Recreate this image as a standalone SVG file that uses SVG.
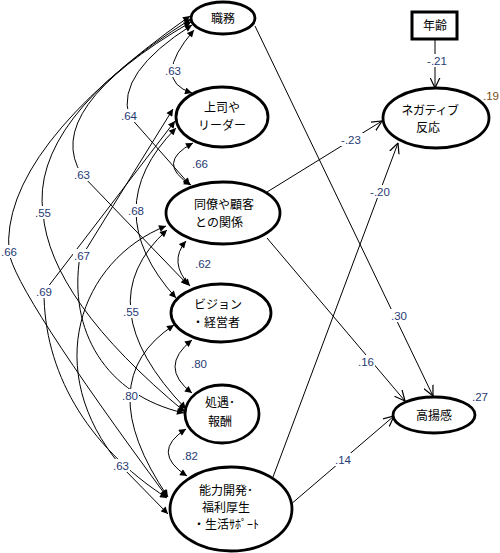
<svg xmlns="http://www.w3.org/2000/svg" width="500" height="553" viewBox="0 0 500 553">
<style>
.c{fill:none;stroke:#000;stroke-width:1}
.cov{marker-start:url(#ah);marker-end:url(#ah)}
.s{marker-start:url(#ah)}
.e{marker-end:url(#ah)}
.r{fill:none;stroke:#000;stroke-width:1;marker-end:url(#open)}
.n{fill:#fff;stroke:#000;stroke-width:2.8}
.t{font-family:"Noto Sans CJK JP",sans-serif;font-size:12px;fill:#000;text-anchor:middle}
.l{font-family:"Liberation Sans",Arial,sans-serif;font-size:11.5px;fill:#1f3b73;text-anchor:middle}
.bg{fill:#fff}
</style>
<defs>
<marker id="ah" viewBox="0 0 10 10" refX="10" refY="5" markerWidth="8" markerHeight="7" markerUnits="userSpaceOnUse" orient="auto-start-reverse"><path d="M0,0 L10,5 L0,10 z" fill="#000"/></marker>
<marker id="open" viewBox="0 0 10 10" refX="9.5" refY="5" markerWidth="11" markerHeight="11" markerUnits="userSpaceOnUse" orient="auto"><path d="M0,0.5 L9.5,5 L0,9.5" fill="none" stroke="#000" stroke-width="1.1"/></marker>
</defs>
<rect width="500" height="553" fill="#fff"/>
<g id="connectors">
<path class="c cov" d="M194,30 Q151,80 192,93"/>
<path class="c cov" d="M193,143 Q155,163 191,185"/>
<path class="c cov" d="M186,241 Q168,262 190,286"/>
<path class="c cov" d="M192,340 Q158,367 192,393"/>
<path class="c cov" d="M186,429 Q150,452 187,476"/>
<path class="c s" d="M192,25 Q116,73 129,116"/>
<path class="c e" d="M129,116 L190,185"/>
<path class="c s" d="M191,22 Q40,110 82,175"/>
<path class="c e" d="M82,175 L188,285"/>
<path class="c s" d="M191,19 Q30,120 43,213"/>
<path class="c e" d="M43,213 Q50,300 185,412"/>
<path class="c s" d="M190,16 Q0,150 9,252"/>
<path class="c e" d="M9,252 Q14,290 167,497"/>
<path class="c cov" d="M176,128 Q96,209 176,298"/>
<path class="c s" d="M173,109 L82,256"/>
<path class="c e" d="M80,256 C68,330 105,395 184,413"/>
<path class="c s" d="M175,121 L44,292"/>
<path class="c e" d="M44,292 C44,370 85,445 167,498"/>
<path class="c cov" d="M167,230 Q85,304 186,409"/>
<path class="c s" d="M166,226 C80,260 40,370 121,466"/>
<path class="c e" d="M121,466 L168,514"/>
<path class="c cov" d="M174,325 Q89,381 168,497"/>
<path class="r" d="M435,40 L435,88"/>
<path class="r" d="M267,192 L382,121"/>
<path class="r" d="M273,477 L398,143"/>
<path class="r" d="M255,26 L433,396"/>
<path class="r" d="M267,238 L405,401"/>
<path class="r" d="M290,505 L394,416"/>
</g>
<g id="labels">
<rect class="bg" x="164" y="64" width="18" height="13"/>
<rect class="bg" x="120" y="109" width="18" height="13"/>
<rect class="bg" x="127" y="204" width="18" height="13"/>
<rect class="bg" x="122" y="305" width="18" height="13"/>
<rect class="bg" x="121" y="389" width="18" height="13"/>
<rect class="bg" x="73" y="168" width="18" height="13"/>
<rect class="bg" x="73" y="249" width="18" height="13"/>
<rect class="bg" x="112" y="459" width="18" height="13"/>
<rect class="bg" x="34" y="206" width="18" height="13"/>
<rect class="bg" x="35" y="285" width="18" height="13"/>
<rect class="bg" x="0" y="245" width="18" height="13"/>
<rect class="bg" x="425" y="54" width="24" height="13"/>
<rect class="bg" x="339" y="133" width="24" height="13"/>
<rect class="bg" x="368" y="185" width="24" height="13"/>
<rect class="bg" x="390" y="309" width="18" height="13"/>
<rect class="bg" x="357" y="355" width="18" height="13"/>
<rect class="bg" x="334" y="453" width="18" height="13"/>
<text class="l" x="173" y="75">.63</text>
<text class="l" x="200" y="168">.66</text>
<text class="l" x="203" y="268">.62</text>
<text class="l" x="199" y="368">.80</text>
<text class="l" x="190" y="460">.82</text>
<text class="l" x="129" y="120">.64</text>
<text class="l" x="136" y="215">.68</text>
<text class="l" x="131" y="316">.55</text>
<text class="l" x="130" y="400">.80</text>
<text class="l" x="82" y="179">.63</text>
<text class="l" x="82" y="260">.67</text>
<text class="l" x="121" y="470">.63</text>
<text class="l" x="43" y="217">.55</text>
<text class="l" x="44" y="296">.69</text>
<text class="l" x="9" y="256">.66</text>
<text class="l" x="437" y="65">-.21</text>
<text class="l" x="351" y="144">-.23</text>
<text class="l" x="380" y="196">-.20</text>
<text class="l" x="399" y="320">.30</text>
<text class="l" x="366" y="366">.16</text>
<text class="l" x="343" y="464">.14</text>
<text class="l" x="491" y="100" style="fill:#7a4a14">.19</text>
<text class="l" x="480" y="401">.27</text>
</g>
<g id="node-shokumu"><ellipse class="n" cx="223" cy="18" rx="32" ry="16"/><text class="t" x="223" y="23">職務</text></g>
<g id="node-joshi"><ellipse class="n" cx="222" cy="117" rx="46" ry="30"/><text class="t" x="222" y="112">上司や</text><text class="t" x="222" y="130">リーダー</text></g>
<g id="node-doryo"><ellipse class="n" cx="223" cy="213" rx="57" ry="31"/><text class="t" x="224" y="209">同僚や顧客</text><text class="t" x="219" y="227">との関係</text></g>
<g id="node-vision"><ellipse class="n" cx="221" cy="313" rx="50" ry="29"/><text class="t" x="218" y="309">ビジョン</text><text class="t" x="216" y="327">・経営者</text></g>
<g id="node-shogu"><ellipse class="n" cx="222" cy="414" rx="37" ry="29"/><text class="t" x="220" y="407">処遇･</text><text class="t" x="220" y="426">報酬</text></g>
<g id="node-noryoku"><ellipse class="n" cx="231" cy="509" rx="61" ry="42"/><text class="t" x="226" y="495">能力開発･</text><text class="t" x="226" y="512">福利厚生</text><text class="t" x="226" y="529">・生活ｻﾎﾟｰﾄ</text></g>
<g id="node-nenrei"><rect x="412" y="12" width="45" height="27" fill="#fff" stroke="#000" stroke-width="3"/><text class="t" x="435" y="30">年齢</text></g>
<g id="node-negative"><ellipse class="n" cx="436" cy="118" rx="53" ry="30"/><text class="t" x="430" y="115" letter-spacing="-0.5">ネガティブ</text><text class="t" x="428" y="132">反応</text></g>
<g id="node-koyokan"><ellipse class="n" cx="434" cy="415" rx="41" ry="18"/><text class="t" x="434" y="420">高揚感</text></g>
</svg>
